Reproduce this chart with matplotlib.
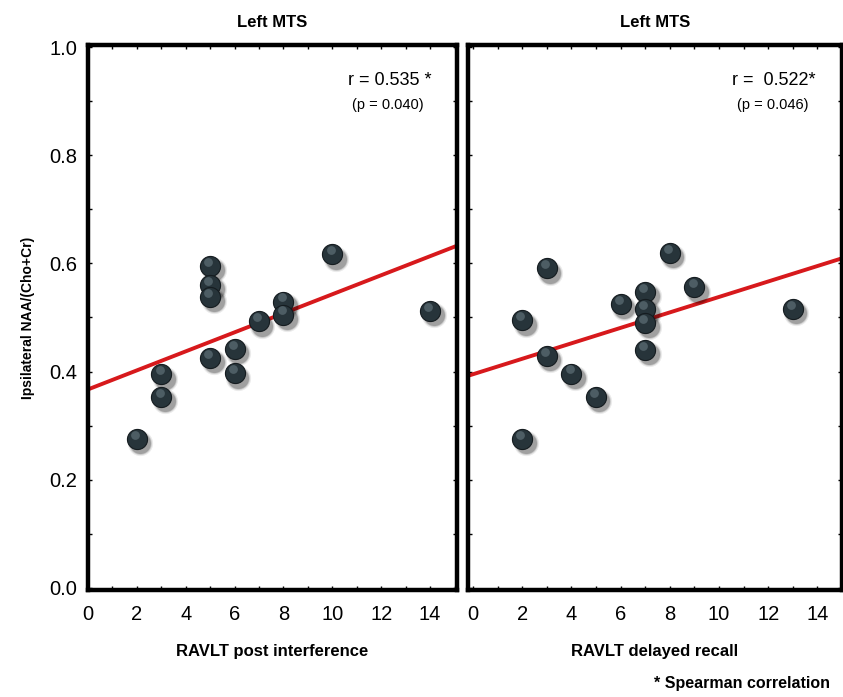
import matplotlib.pyplot as plt
import numpy as np

plt.rcParams['font.family'] = ['Liberation Sans', 'DejaVu Sans']

# left panel: RAVLT post interference
post_x = [2, 3, 3, 5, 5, 5, 5, 6, 6, 7, 8, 8, 10, 14]
post_y = [0.275, 0.395, 0.353, 0.595, 0.560, 0.538, 0.425,
          0.442, 0.397, 0.493, 0.529, 0.505, 0.617, 0.512]
post_fit = (0.367, 0.0176)   # intercept, slope

# right panel: RAVLT delayed recall
delay_x = [2, 2, 3, 3, 4, 5, 6, 7, 7, 7, 7, 8, 9, 13]
delay_y = [0.275, 0.495, 0.591, 0.429, 0.396, 0.353, 0.525,
           0.547, 0.516, 0.490, 0.440, 0.619, 0.556, 0.516]
delay_fit = (0.395, 0.0143)

titles = ['Left MTS', 'Left MTS']
xlabels = ['RAVLT post interference', 'RAVLT delayed recall']
r_text = ['r = 0.535 *', 'r =  0.522*']
p_text = ['(p = 0.040)', '(p = 0.046)']
xticks = [0, 2, 4, 6, 8, 10, 12, 14]
yticks = [0.0, 0.2, 0.4, 0.6, 0.8, 1.0]

DPI = 100
fig = plt.figure(dpi=DPI, figsize=(843 / DPI, 697 / DPI))
ax1 = fig.add_axes([88 / 843, 107 / 697, 369 / 843, 545 / 697])
ax2 = fig.add_axes([468 / 843, 107 / 697, 374 / 843, 545 / 697])

panels = [(ax1, post_x, post_y, post_fit, (0.04, 15.1)),
          (ax2, delay_x, delay_y, delay_fit, (-0.2, 15.0))]

for i, (ax, xs, ys, fit, xlim) in enumerate(panels):
    ax.set_xlim(*xlim)
    ax.set_ylim(-0.004, 1.004)
    lx = np.array(xlim)
    ax.plot(lx, fit[0] + fit[1] * lx, color='#d7191c', lw=2.8, zorder=2)
    # soft shadow, ball, highlight
    for k, (s, a) in enumerate([(330, 0.08), (270, 0.14), (230, 0.2)]):
        ax.scatter(np.array(xs) + 0.14, np.array(ys) - 0.008, s=s,
                   color='#000000', alpha=a, lw=0, zorder=3)
    ax.scatter(xs, ys, s=210, color='#27343a', edgecolors='#151c20',
               lw=0.8, zorder=4)
    ax.scatter(np.array(xs) - 0.07, np.array(ys) + 0.008, s=40,
               color='#6d7f87', alpha=0.55, lw=0, zorder=5)

    for sp in ax.spines.values():
        sp.set_linewidth(3.2)
    ax.set_xticks(xticks)
    ax.set_xticks(range(0, 16), minor=True)
    ax.set_yticks(yticks)
    ax.set_yticks(np.arange(0, 1.01, 0.1), minor=True)
    ax.tick_params(which='both', direction='in', top=True, right=True,
                   length=3, width=1, labelsize=14.5, pad=8)
    ax.tick_params(axis='x', which='major', pad=11)
    if i == 0:
        ax.set_yticklabels(['0.0', '0.2', '0.4', '0.6', '0.8', '1.0'])
    else:
        ax.set_yticklabels([])

    ax.set_title(titles[i], fontsize=12, fontweight='bold', pad=13)
    ax.set_xlabel(xlabels[i], fontsize=12, fontweight='bold', labelpad=14)
    ax.text(0.93, 0.935, r_text[i], transform=ax.transAxes, ha='right',
            va='center', fontsize=13)
    ax.text(0.91, 0.89, p_text[i], transform=ax.transAxes, ha='right',
            va='center', fontsize=10.5)

ax1.set_ylabel('Ipsilateral NAA/(Cho+Cr)', fontsize=10, fontweight='bold',
               labelpad=10)

fig.text(0.985, 0.02, '* Spearman correlation', ha='right', va='center',
         fontsize=11.5, fontweight='bold')

fig.savefig('out.png')
